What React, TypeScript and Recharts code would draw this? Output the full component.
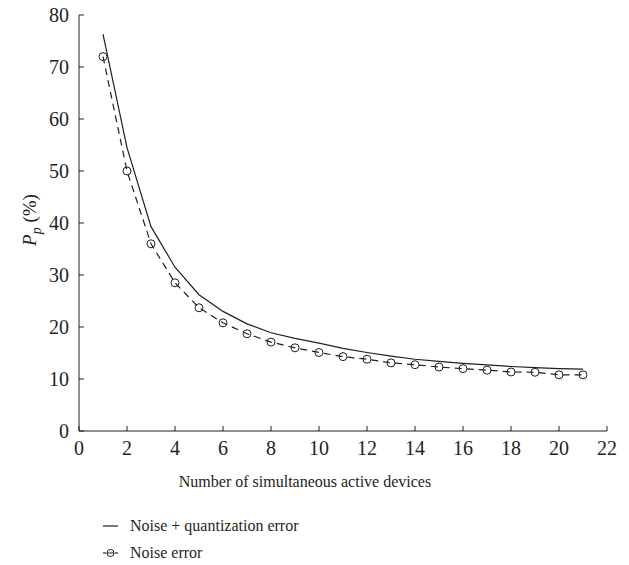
import { Legend, Line, LineChart, XAxis, YAxis } from 'recharts';

const devices = [1, 2, 3, 4, 5, 6, 7, 8, 9, 10, 11, 12, 13, 14, 15, 16, 17, 18, 19, 20, 21];
const noiseQuantError = [
  76.3, 54.5, 39.3, 31.5, 26.2, 23.0, 20.6, 18.9, 17.8, 16.9, 15.9, 15.1, 14.4, 13.8, 13.4,
  13.0, 12.7, 12.4, 12.2, 12.0, 11.9,
];
const noiseError = [
  72.0, 50.0, 36.0, 28.5, 23.7, 20.8, 18.7, 17.1, 16.0, 15.1, 14.3, 13.8, 13.1, 12.75, 12.3,
  12.0, 11.7, 11.35, 11.3, 10.8, 10.8,
];
const xTicks = [0, 2, 4, 6, 8, 10, 12, 14, 16, 18, 20, 22];
const yTicks = [0, 10, 20, 30, 40, 50, 60, 70, 80];

const INK = '#231f20';
const SERIF = '"Liberation Serif", "DejaVu Serif", serif';

const data = devices.map((n, i) => ({ n, nq: noiseQuantError[i], ne: noiseError[i] }));

function XLabel({ viewBox }: any) {
  const cx = viewBox.x + viewBox.width / 2 - 38;
  return (
    <text x={cx} y={viewBox.y + 56} textAnchor="middle" fill={INK} fontSize={16} fontFamily={SERIF}>
      Number of simultaneous active devices
    </text>
  );
}

function YLabel({ viewBox }: any) {
  const cy = viewBox.y + viewBox.height / 2 - 3;
  const cx = 36;
  return (
    <text
      x={cx}
      y={cy}
      transform={`rotate(-90 ${cx} ${cy})`}
      textAnchor="middle"
      fill={INK}
      fontSize={19}
      fontFamily={SERIF}
    >
      <tspan fontStyle="italic">P</tspan>
      <tspan fontStyle="italic" fontSize={14} dy={5}>p</tspan>
      <tspan dy={-5}> (%)</tspan>
    </text>
  );
}

function LegendBox() {
  const row = { display: 'flex', alignItems: 'center', height: 27 } as const;
  return (
    <div style={{ fontFamily: SERIF, fontSize: 16, color: INK, paddingLeft: 102 }}>
      <div style={row}>
        <svg width={28} height={12}>
          <line x1={1} y1={6} x2={16} y2={6} stroke={INK} strokeWidth={1.2} />
        </svg>
        <span>Noise + quantization error</span>
      </div>
      <div style={row}>
        <svg width={28} height={12}>
          <line x1={1} y1={6} x2={4} y2={6} stroke={INK} strokeWidth={1.2} />
          <line x1={13} y1={6} x2={16} y2={6} stroke={INK} strokeWidth={1.2} />
          <circle cx={8.5} cy={6} r={3.5} fill="#fff" stroke={INK} strokeWidth={1} />
          <line x1={5} y1={6} x2={12} y2={6} stroke={INK} strokeWidth={1} />
        </svg>
        <span>Noise error</span>
      </div>
    </div>
  );
}

export default function App() {
  return (
    <div style={{ position: 'absolute', left: 0, top: 0, background: '#fff' }}>
      <LineChart width={629} height={565} data={data} margin={{ top: 15, right: 22, bottom: 18, left: 19 }}>
        <XAxis
          dataKey="n"
          type="number"
          domain={[0, 22]}
          ticks={xTicks}
          interval={0}
          height={60}
          tickSize={-5}
          tickMargin={15}
          stroke={INK}
          tick={{ fill: INK, fontSize: 20, fontFamily: SERIF }}
          label={<XLabel />}
        />
        <YAxis
          type="number"
          domain={[0, 80]}
          ticks={yTicks}
          interval={0}
          width={60}
          tickSize={-5}
          tickMargin={15}
          stroke={INK}
          tick={{ fill: INK, fontSize: 20, fontFamily: SERIF }}
          label={<YLabel />}
        />
        <Legend
          verticalAlign="bottom"
          content={<LegendBox />}
          wrapperStyle={{ left: 0, top: 512, bottom: 'auto', width: 629, height: 56 }}
        />
        <Line
          dataKey="nq"
          type="linear"
          stroke={INK}
          strokeWidth={1.2}
          dot={false}
          activeDot={false}
          isAnimationActive={false}
        />
        <Line
          dataKey="ne"
          type="linear"
          stroke={INK}
          strokeWidth={1.2}
          strokeDasharray="7 5"
          dot={{ r: 4, fill: 'none', stroke: INK, strokeWidth: 1, strokeDasharray: '' }}
          activeDot={false}
          isAnimationActive={false}
        />
      </LineChart>
    </div>
  );
}
